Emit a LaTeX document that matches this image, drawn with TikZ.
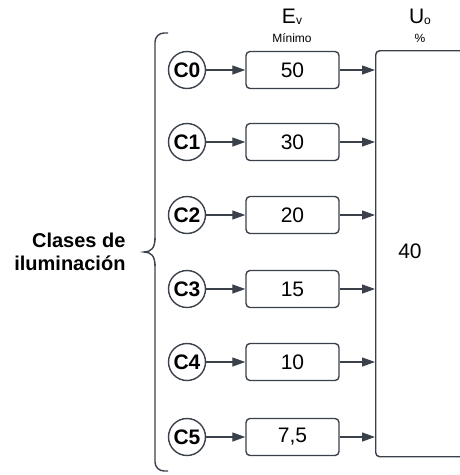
\documentclass[tikz,border=0pt]{standalone}
\usepackage{fontspec}
\setmainfont{Liberation Sans}
\usetikzlibrary{arrows.meta}
\definecolor{ink}{HTML}{3B414B}
\begin{document}
\begin{tikzpicture}[x=1pt,y=-1pt,
  line/.style={draw=ink,line width=1.4pt},
  cls/.style={line,circle,minimum size=37pt,inner sep=0pt,font=\fontsize{21}{21}\selectfont\bfseries},
  valbox/.style={line,rounded corners=4pt,minimum width=93pt,minimum height=37pt,inner sep=0pt,font=\fontsize{21}{21}\selectfont},
  flow/.style={draw=ink,line width=1.3pt,-{Triangle[length=13pt,width=9pt]}},
  head/.style={font=\fontsize{21}{21}\selectfont},
  sub/.style={font=\fontsize{12}{12}\selectfont}]
\useasboundingbox (0,0) rectangle (460,475);

% column headings
\node[head] (hev) at (292,17) {E\raisebox{-1pt}{\fontsize{12}{12}\selectfont v}};
\node[sub]  (hmin) at (292,38) {Mínimo};
\node[head] (huo) at (420,17) {U\raisebox{-1pt}{\fontsize{12}{12}\selectfont o}};
\node[sub]  (hpct) at (420,38) {\%};

% uniformity box, running off the right edge
\node[line,rounded corners=4pt,minimum width=120pt,minimum height=406pt,inner sep=0pt,
      anchor=north west] (U) at (375,50) {};
\node[font=\fontsize{21}{21}\selectfont] (uval) at (410,251) {40};

% bracket grouping the classes
\draw[line,rounded corners=9pt] (168,33) -- (155,33) -- (155,240);
\draw[line] (155,238) .. controls (155,248) and (151,252) .. (144,252)
            .. controls (151,252) and (155,256) .. (155,266);
\draw[line,rounded corners=9pt] (155,264) -- (155,471) -- (168,471);

\node[align=right,anchor=east,font=\fontsize{20}{23}\selectfont\bfseries] (lbl) at (129,252)
  {Clases de\\iluminación};

% class rows
\foreach \i/\v/\y in {0/50/70,1/30/142,2/20/215,3/15/289,4/10/362,5/{7,5}/437}{
  \node[cls] (c\i) at (187,\y) {C\i};
  \node[valbox] (e\i) at (292.5,\y) {\v};
  \coordinate (u\i) at (U.west |- e\i);
  \draw[flow] (c\i) -- (e\i);
  \draw[flow] (e\i) -- (u\i);
}
\end{tikzpicture}
\end{document}
